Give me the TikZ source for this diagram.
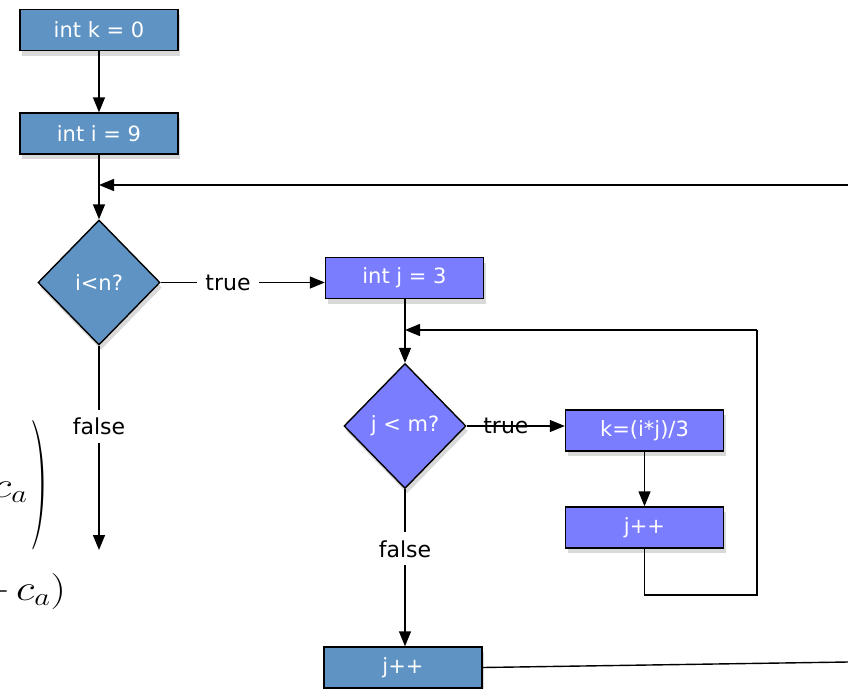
\RequirePackage{fix-cm}
\documentclass[tikz,border=0pt]{standalone}
\usepackage[no-math]{fontspec}
\usepackage{graphicx}
\newfontfamily\boxfont{DejaVu Sans}
\usetikzlibrary{shapes.geometric,arrows.meta,shadows}
\definecolor{steel}{HTML}{5E93C4}
\definecolor{peri}{HTML}{7B7DFF}
\tikzset{
  base/.style={draw=black, line width=1.4pt, text=white,
    font=\boxfont\fontsize{21}{24}\selectfont,
    drop shadow={opacity=0.3, shadow xshift=2pt, shadow yshift=-5pt}},
  bluebox/.style={base, rectangle, fill=steel, minimum width=158pt,
    minimum height=41pt, inner sep=0pt},
  peribox/.style={bluebox, fill=peri},
  decision/.style={base, diamond, minimum width=122pt, minimum height=125pt,
    inner sep=0pt},
  arr/.style={line width=1.4pt, -{Triangle[length=15pt,width=12pt]}},
  conn/.style={line width=1.4pt},
  lbl/.style={font=\boxfont\fontsize{22}{25}\selectfont, text=black},
  gaplbl/.style={lbl, fill=white, inner xsep=8pt, inner ysep=8pt},
  mathtxt/.style={inner sep=0pt, font=\fontsize{36}{40}\selectfont}
}
\begin{document}
\begin{tikzpicture}[x=1pt,y=-1pt]
\useasboundingbox (0,0) rectangle (848,688);
\clip (0,0) rectangle (848,688);

% math fragments at the left edge
\node[mathtxt, anchor=base east] (m1) at (49,497)
  {\scalebox{1.2}[1]{$c_a$}\hspace{3pt}\raisebox{-20pt}{\scalebox{1.43}[3.6]{$)$}}};
\node[mathtxt, anchor=base east] (m2) at (66,600)
  {\scalebox{1.2}[1]{$\mathord{-}\mkern2mu c_a)$}};

% nodes
\node[bluebox] (k0) at (99,30) {int k = 0};
\node[bluebox] (i9) at (99,133.5) {int i = 9};
\node[decision, fill=steel] (d1) at (99,282.5) {i<n?};
\node[peribox] (j3) at (404.5,278) {int j = 3};
\node[decision, fill=peri] (d2) at (405,426) {j < m?};
\node[peribox] (kij) at (644.5,430.5) {k=(i*j)/3};
\node[peribox] (jinc) at (644.5,527.5) {j++};
\node[bluebox] (jout) at (403,667.5) {j++};

% free ends and bends
\coordinate (outerIn) at (848,185);
\coordinate (outerJoin) at (99,185);
\coordinate (f1) at (99,550);
\coordinate (innerJoin) at (405,330);
\coordinate (b1) at (644.5,595);
\coordinate (b2) at (757,595);
\coordinate (b3) at (757,330);
\coordinate (outerOut) at (848,662);

% connectors
\draw[arr] (k0) -- (i9);
\draw[arr] (i9) -- (d1);
\draw[arr] (outerIn) -- (outerJoin);
\draw[arr] (d1.east) -- (d1.east -| j3.west)
  node[gaplbl, pos=0.41] {true};
\draw[arr] (d1.south) -- (f1)
  node[gaplbl, pos=0.395] {false};
\draw[arr] (j3.south -| d2.north) -- (d2.north);
\draw[arr] (d2.east) -- (d2.east -| kij.west)
  node[lbl, pos=0.4] {true};
\draw[arr] (kij) -- (jinc);
\draw[conn] (jinc.south) -- (b1) -- (b2) -- (b3);
\draw[arr] (b3) -- (innerJoin);
\draw[arr] (d2.south) -- (jout.north -| d2.south)
  node[gaplbl, pos=0.38] {false};
\draw[conn] (jout.east) -- (outerOut);
\end{tikzpicture}
\end{document}
